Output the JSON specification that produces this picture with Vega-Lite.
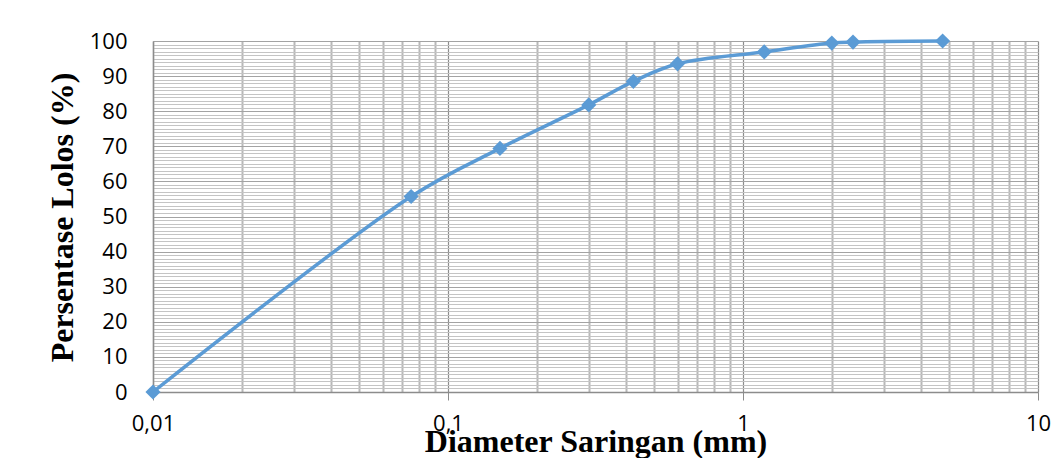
{
  "$schema": "https://vega.github.io/schema/vega-lite/v6.json",
  "width": 885,
  "height": 351,
  "autosize": {"type": "none"},
  "padding": {"left": 153, "top": 41, "right": 19, "bottom": 66},
  "background": "white",
  "config": {"view": {"stroke": null}},
  "data": {
    "values": [
      {"diameter": 0.01, "lolos": 0},
      {"diameter": 0.075, "lolos": 55.7},
      {"diameter": 0.15, "lolos": 69.4},
      {"diameter": 0.3, "lolos": 81.8},
      {"diameter": 0.425, "lolos": 88.5},
      {"diameter": 0.6, "lolos": 93.5},
      {"diameter": 1.18, "lolos": 96.9},
      {"diameter": 2.0, "lolos": 99.4},
      {"diameter": 2.36, "lolos": 99.7},
      {"diameter": 4.75, "lolos": 100}
    ]
  },
  "resolve": {"axis": {"x": "independent", "y": "independent"}},
  "layer": [
    {
      "mark": {"type": "line", "strokeOpacity": 0},
      "encoding": {
        "x": {
          "field": "diameter", "type": "quantitative",
          "scale": {"type": "log", "domain": [0.01, 10], "nice": false},
          "axis": {
            "orient": "bottom",
            "values": [0.02, 0.03, 0.04, 0.05, 0.06, 0.07, 0.08, 0.09, 0.2, 0.3, 0.4, 0.5, 0.6, 0.7, 0.8, 0.9, 2, 3, 4, 5, 6, 7, 8, 9],
            "grid": true, "gridColor": "#b8b8b8", "gridWidth": 2, "gridOpacity": 1,
            "labels": false, "ticks": false, "domain": false, "title": null
          }
        },
        "y": {
          "field": "lolos", "type": "quantitative",
          "scale": {"domain": [0, 100], "nice": false},
          "axis": {
            "orient": "left",
            "values": [1, 2, 3, 4, 5, 6, 7, 8, 9, 11, 12, 13, 14, 15, 16, 17, 18, 19, 21, 22, 23, 24, 25, 26, 27, 28, 29, 31, 32, 33, 34, 35, 36, 37, 38, 39, 41, 42, 43, 44, 45, 46, 47, 48, 49, 51, 52, 53, 54, 55, 56, 57, 58, 59, 61, 62, 63, 64, 65, 66, 67, 68, 69, 71, 72, 73, 74, 75, 76, 77, 78, 79, 81, 82, 83, 84, 85, 86, 87, 88, 89, 91, 92, 93, 94, 95, 96, 97, 98, 99],
            "grid": true, "gridColor": "#c4c4c4", "gridWidth": 1.2, "gridOpacity": 1,
            "labels": false, "ticks": false, "domain": false, "title": null
          }
        }
      }
    },
    {
      "mark": {
        "type": "line",
        "interpolate": "catmull-rom",
        "color": "#5b9bd5",
        "strokeWidth": 3.5,
        "point": {"shape": "diamond", "filled": true, "size": 230, "color": "#5b9bd5"}
      },
      "encoding": {
        "x": {
          "field": "diameter", "type": "quantitative",
          "scale": {"type": "log", "domain": [0.01, 10], "nice": false},
          "axis": {
            "orient": "bottom",
            "values": [0.01, 0.1, 1, 10],
            "labelExpr": "datum.value == 0.01 ? '0,01' : datum.value == 0.1 ? '0,1' : datum.value == 1 ? '1' : '10'",
            "grid": true, "gridColor": "#8c8c8c", "gridWidth": 1.2, "gridOpacity": 1,
            "domain": true, "domainColor": "#8c8c8c", "domainWidth": 1.5,
            "ticks": true, "tickColor": "#8c8c8c", "tickSize": 8,
            "labelFont": "Open Sans", "labelFontSize": 22, "labelColor": "#000000",
            "labelBaseline": "alphabetic", "labelPadding": 30, "labelFlush": false, "labelOverlap": false,
            "title": "Diameter Saringan (mm)",
            "titleFont": "Liberation Serif", "titleFontWeight": "bold", "titleFontSize": 32, "titleColor": "#000000",
            "titleBaseline": "alphabetic", "titleY": 59
          }
        },
        "y": {
          "field": "lolos", "type": "quantitative",
          "scale": {"domain": [0, 100], "nice": false},
          "axis": {
            "orient": "left",
            "values": [0, 10, 20, 30, 40, 50, 60, 70, 80, 90, 100],
            "grid": true, "gridColor": "#a3a3a3", "gridWidth": 1.2, "gridOpacity": 1,
            "domain": true, "domainColor": "#8c8c8c", "domainWidth": 1.5,
            "ticks": false, "tickSize": 0,
            "labelFont": "Open Sans", "labelFontSize": 22, "labelColor": "#000000",
            "labelPadding": 26, "labelBaseline": "middle", "labelFlush": false, "labelOverlap": false,
            "title": "Persentase Lolos (%)",
            "titleFont": "Liberation Serif", "titleFontWeight": "bold", "titleFontSize": 32, "titleColor": "#000000",
            "titleAngle": -90, "titleBaseline": "alphabetic", "titleAlign": "center",
            "titleX": -81, "titleY": 176
          }
        }
      }
    }
  ]
}
